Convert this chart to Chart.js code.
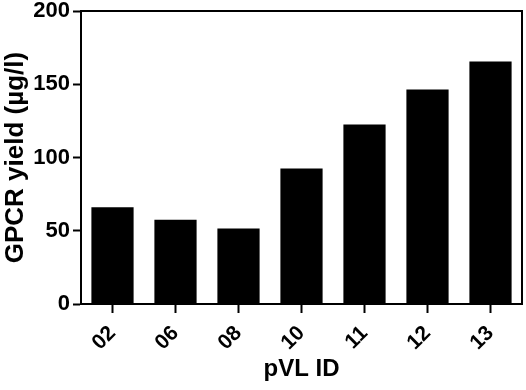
<!DOCTYPE html>
<html>
<head>
<meta charset="utf-8">
<script src="https://cdn.jsdelivr.net/npm/chart.js@4/dist/chart.umd.min.js"></script>
<style>
  html, body { margin: 0; padding: 0; background: #fff; }
  #wrap { width: 526px; height: 390px; }
</style>
</head>
<body>
<div id="wrap"><canvas id="yieldChart" width="526" height="390"></canvas></div>
<script>
const categories = ['02', '06', '08', '10', '11', '12', '13'];
const yieldValues = [66, 57.5, 51.5, 92.5, 122.5, 146.5, 165.5];
const yTicks = [0, 50, 100, 150, 200];

const fontFamily = '"Liberation Sans", Arial, Helvetica, sans-serif';

// box around the plot area (top + right sides too)
const frame = {
    id: 'frame',
    afterDatasetsDraw(chart) {
        const a = chart.chartArea;
        const ctx = chart.ctx;
        ctx.save();
        ctx.strokeStyle = '#000';
        ctx.lineWidth = 2;
        ctx.strokeRect(a.left, a.top, a.right - a.left, a.bottom - a.top);
        ctx.restore();
    }
};

new Chart(document.getElementById('yieldChart'), {
    type: 'bar',
    data: {
        labels: categories,
        datasets: [{
            data: yieldValues,
            backgroundColor: '#000',
            borderWidth: 0,
            barPercentage: 0.67,
            categoryPercentage: 1
        }]
    },
    options: {
        responsive: false,
        animation: false,
        devicePixelRatio: 1,
        layout: { padding: { top: 11, right: 4, left: 0, bottom: 6 } },
        plugins: {
            legend: { display: false },
            tooltip: { enabled: false }
        },
        scales: {
            y: {
                min: 0,
                max: 200,
                afterFit: s => { s.width = 81; s.paddingTop = 0; s.paddingBottom = 0; },
                afterBuildTicks: s => { s.ticks = yTicks.map(v => ({ value: v })); },
                border: { color: '#000', width: 2 },
                grid: { drawOnChartArea: false, drawTicks: true, tickLength: 8, tickWidth: 2, tickColor: '#000' },
                ticks: { color: '#000', padding: 3, font: { family: fontFamily, size: 22, weight: 'bold' } },
                title: {
                    display: true,
                    text: 'GPCR yield (µg/l)',
                    color: '#000',
                    padding: 0,
                    font: { family: fontFamily, size: 26, weight: 'bold' }
                }
            },
            x: {
                afterFit: s => { s.height = 80; },
                border: { color: '#000', width: 2 },
                grid: { offset: false, drawOnChartArea: false, drawTicks: true, tickLength: 9, tickWidth: 2, tickColor: '#000' },
                ticks: {
                    color: '#000',
                    padding: 8,
                    minRotation: 45,
                    maxRotation: 45,
                    font: { family: fontFamily, size: 21, weight: 'bold' }
                },
                title: {
                    display: true,
                    text: 'pVL ID',
                    color: '#000',
                    padding: 0,
                    font: { family: fontFamily, size: 24, weight: 'bold' }
                }
            }
        }
    },
    plugins: [frame]
});
</script>
</body>
</html>
